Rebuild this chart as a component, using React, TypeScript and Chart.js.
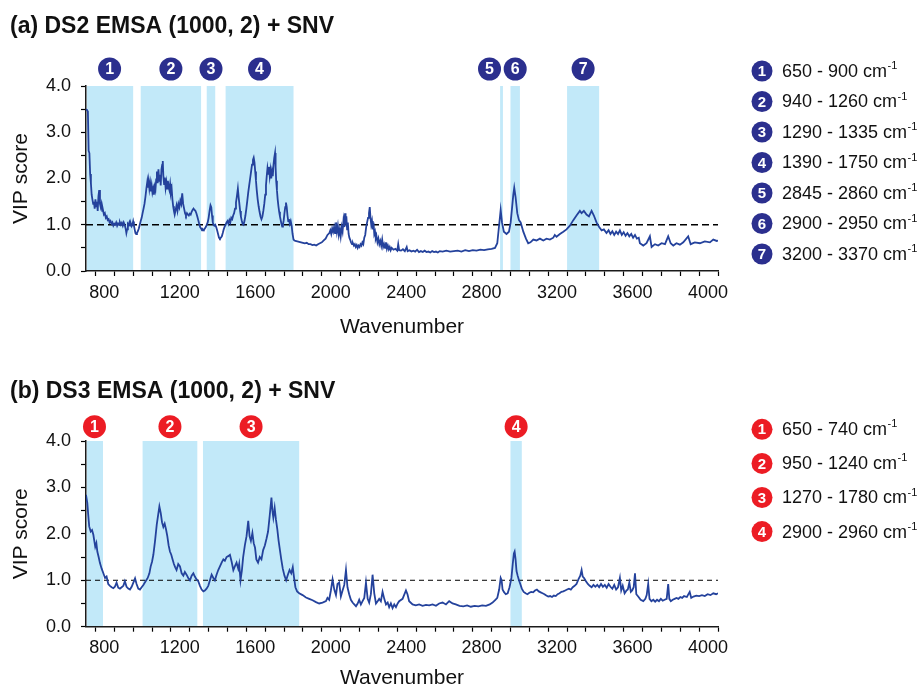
import React, { useEffect, useRef } from 'react';
import { Chart, registerables } from 'chart.js';

Chart.register(...registerables);

// ---------------- data ----------------
const titleA = '(a) DS2 EMSA (1000, 2) + SNV';
const titleB = '(b) DS3 EMSA (1000, 2) + SNV';
const xTitle = 'Wavenumber';
const yTitle = 'VIP score';

const xMajorTicks = [800, 1200, 1600, 2000, 2400, 2800, 3200, 3600, 4000];
const yMajorTicks = [0, 1, 2, 3, 4];
const threshold = 1.0;

const regionsA = [[650, 900], [940, 1260], [1290, 1335], [1390, 1750], [2845, 2860], [2900, 2950], [3200, 3370]];
const regionsB = [[650, 740], [950, 1240], [1270, 1780], [2900, 2960]];

const vipA = [
  [650, 3.5], [655, 3.48], [660, 3.45], [664, 2.6], [668, 2.55], [672, 2.1], [676, 1.9], [680, 1.65], [684, 1.55], [688, 1.45],
  [692, 1.5], [696, 1.35], [700, 1.55], [704, 1.4], [708, 1.5], [712, 1.3], [716, 1.62], [720, 1.75], [724, 1.45], [728, 1.38],
  [732, 1.45], [736, 1.3], [740, 1.32], [745, 1.22], [750, 1.25], [755, 1.15], [760, 1.18], [765, 1.1], [770, 1.12], [775, 1.05],
  [780, 1.08], [785, 1.02], [790, 1.05], [795, 0.98], [800, 1.02], [805, 1.0], [810, 1.05], [815, 0.98], [820, 1.03], [825, 1.0],
  [830, 1.05], [835, 1.0], [840, 1.04], [845, 0.98], [850, 1.05], [855, 1.0], [860, 0.92], [864, 0.82], [868, 0.9], [872, 1.02],
  [876, 1.0], [880, 1.05], [884, 0.98], [888, 1.02], [892, 0.97], [896, 1.0], [900, 1.07], [904, 0.98], [908, 0.9], [912, 0.82],
  [916, 0.8], [920, 0.82], [925, 0.86], [930, 0.92], [935, 1.0], [940, 1.08], [945, 1.15], [950, 1.25], [955, 1.35], [960, 1.45],
  [965, 1.6], [970, 1.78], [975, 1.93], [978, 1.8], [982, 1.95], [986, 1.78], [990, 1.9], [994, 1.72], [998, 1.85], [1002, 1.7],
  [1006, 1.78], [1010, 1.65], [1014, 1.82], [1018, 1.75], [1022, 1.98], [1026, 2.15], [1030, 1.9], [1034, 2.2], [1038, 1.95], [1042, 2.08],
  [1046, 1.85], [1050, 2.2], [1054, 2.3], [1057, 2.38], [1060, 2.05], [1064, 1.88], [1068, 2.02], [1072, 1.8], [1076, 1.92], [1080, 1.78],
  [1084, 1.95], [1088, 1.82], [1092, 1.75], [1096, 1.88], [1100, 1.7], [1104, 1.78], [1108, 1.55], [1112, 1.4], [1116, 1.3], [1120, 1.22],
  [1125, 1.32], [1130, 1.42], [1135, 1.3], [1140, 1.45], [1145, 1.38], [1150, 1.52], [1155, 1.45], [1160, 1.68], [1165, 1.45], [1170, 1.35],
  [1175, 1.25], [1180, 1.2], [1185, 1.25], [1190, 1.22], [1195, 1.2], [1200, 1.24], [1205, 1.22], [1210, 1.28], [1215, 1.32], [1220, 1.35],
  [1225, 1.32], [1230, 1.3], [1235, 1.25], [1240, 1.18], [1245, 1.1], [1250, 1.02], [1255, 0.95], [1260, 0.92], [1265, 0.88], [1270, 0.9],
  [1275, 0.88], [1280, 0.92], [1285, 0.95], [1290, 1.0], [1295, 1.05], [1300, 1.15], [1305, 1.3], [1310, 1.42], [1314, 1.38], [1318, 1.2],
  [1322, 1.05], [1326, 1.0], [1330, 0.98], [1335, 1.0], [1340, 0.95], [1345, 0.88], [1350, 0.8], [1355, 0.72], [1360, 0.7], [1365, 0.72],
  [1370, 0.75], [1375, 0.82], [1380, 0.9], [1385, 0.96], [1390, 1.0], [1395, 1.05], [1400, 1.08], [1405, 1.02], [1410, 1.1], [1415, 1.05],
  [1420, 1.15], [1425, 1.12], [1430, 1.2], [1435, 1.25], [1440, 1.35], [1445, 1.48], [1450, 1.62], [1455, 1.78], [1459, 1.6], [1463, 1.45],
  [1467, 1.3], [1471, 1.18], [1475, 1.1], [1480, 1.02], [1485, 1.0], [1490, 1.08], [1495, 1.2], [1500, 1.35], [1505, 1.52], [1510, 1.7],
  [1515, 1.85], [1520, 2.0], [1525, 2.15], [1530, 2.3], [1535, 2.4], [1539, 2.45], [1543, 2.35], [1547, 2.15], [1551, 1.95], [1555, 1.75],
  [1560, 1.55], [1565, 1.4], [1570, 1.28], [1575, 1.18], [1580, 1.12], [1585, 1.18], [1590, 1.3], [1595, 1.45], [1600, 1.65], [1604, 1.85],
  [1608, 2.05], [1612, 2.22], [1616, 2.1], [1620, 2.25], [1624, 2.05], [1628, 2.18], [1632, 2.0], [1636, 2.15], [1640, 2.05], [1644, 2.3],
  [1648, 2.45], [1652, 2.55], [1655, 2.25], [1658, 1.95], [1662, 1.75], [1666, 1.55], [1670, 1.4], [1674, 1.28], [1678, 1.18], [1682, 1.1],
  [1686, 1.02], [1690, 0.96], [1694, 1.0], [1698, 1.1], [1702, 1.25], [1706, 1.38], [1710, 1.48], [1714, 1.38], [1718, 1.2], [1722, 1.08],
  [1726, 1.12], [1730, 1.02], [1735, 1.08], [1740, 0.98], [1745, 0.8], [1750, 0.68], [1755, 0.66], [1760, 0.65], [1770, 0.64], [1780, 0.63],
  [1790, 0.62], [1800, 0.61], [1810, 0.6], [1820, 0.61], [1830, 0.58], [1840, 0.58], [1850, 0.56], [1860, 0.57], [1870, 0.55], [1880, 0.58],
  [1890, 0.6], [1900, 0.62], [1910, 0.66], [1920, 0.7], [1930, 0.78], [1940, 0.82], [1945, 0.88], [1950, 0.8], [1955, 0.92], [1960, 0.85],
  [1965, 0.95], [1970, 0.82], [1975, 1.05], [1980, 0.85], [1985, 0.98], [1990, 0.78], [1995, 0.9], [2000, 0.75], [2005, 0.95], [2010, 0.85],
  [2015, 1.1], [2020, 0.95], [2023, 1.25], [2026, 1.0], [2030, 1.18], [2034, 0.9], [2038, 1.05], [2042, 0.8], [2046, 0.72], [2050, 0.68],
  [2055, 0.62], [2060, 0.58], [2065, 0.6], [2070, 0.55], [2075, 0.58], [2080, 0.52], [2085, 0.56], [2090, 0.5], [2095, 0.55], [2100, 0.52],
  [2105, 0.58], [2110, 0.55], [2115, 0.62], [2120, 0.58], [2125, 0.72], [2130, 0.78], [2135, 0.95], [2140, 1.05], [2145, 1.15], [2150, 1.25],
  [2154, 1.38], [2158, 1.15], [2162, 1.0], [2166, 1.08], [2170, 0.9], [2174, 1.05], [2178, 0.8], [2182, 0.85], [2186, 0.7], [2190, 0.75],
  [2195, 0.62], [2200, 0.7], [2205, 0.58], [2210, 0.65], [2215, 0.55], [2220, 0.68], [2225, 0.52], [2230, 0.58], [2235, 0.5], [2240, 0.62],
  [2245, 0.48], [2250, 0.55], [2255, 0.47], [2260, 0.52], [2265, 0.45], [2270, 0.5], [2280, 0.46], [2290, 0.48], [2300, 0.44], [2305, 0.58],
  [2310, 0.45], [2320, 0.44], [2330, 0.47], [2340, 0.43], [2350, 0.52], [2355, 0.43], [2365, 0.45], [2375, 0.42], [2385, 0.44], [2395, 0.42],
  [2405, 0.46], [2415, 0.41], [2425, 0.43], [2435, 0.41], [2445, 0.44], [2455, 0.41], [2465, 0.42], [2475, 0.4], [2485, 0.43], [2495, 0.41],
  [2505, 0.42], [2515, 0.4], [2525, 0.43], [2540, 0.42], [2560, 0.44], [2580, 0.42], [2600, 0.43], [2620, 0.44], [2640, 0.42], [2660, 0.45],
  [2680, 0.43], [2700, 0.45], [2720, 0.44], [2740, 0.46], [2760, 0.45], [2780, 0.47], [2800, 0.48], [2818, 0.5], [2830, 0.6], [2840, 1.0],
  [2848, 1.32], [2855, 1.05], [2865, 0.85], [2879, 0.8], [2892, 0.85], [2901, 1.05], [2908, 1.35], [2915, 1.65], [2920, 1.8], [2927, 1.6],
  [2936, 1.25], [2945, 1.1], [2954, 1.05], [2968, 0.85], [2982, 0.7], [2994, 0.6], [3006, 0.62], [3021, 0.68], [3038, 0.66], [3056, 0.7],
  [3074, 0.66], [3091, 0.7], [3109, 0.68], [3127, 0.72], [3135, 0.78], [3144, 0.74], [3162, 0.8], [3180, 0.85], [3197, 0.9], [3215, 0.98],
  [3233, 1.1], [3250, 1.2], [3268, 1.3], [3277, 1.25], [3289, 1.3], [3303, 1.22], [3316, 1.18], [3330, 1.3], [3342, 1.2], [3356, 1.05],
  [3370, 0.95], [3383, 0.88], [3395, 0.9], [3409, 0.82], [3420, 0.88], [3430, 0.8], [3440, 0.86], [3450, 0.78], [3460, 0.85], [3470, 0.8],
  [3480, 0.88], [3490, 0.78], [3500, 0.84], [3510, 0.76], [3520, 0.82], [3530, 0.75], [3540, 0.8], [3550, 0.72], [3560, 0.78], [3570, 0.7],
  [3580, 0.72], [3586, 0.6], [3604, 0.55], [3621, 0.6], [3639, 0.75], [3648, 0.52], [3666, 0.58], [3683, 0.55], [3701, 0.6], [3719, 0.58],
  [3736, 0.75], [3749, 0.6], [3763, 0.55], [3780, 0.6], [3798, 0.57], [3816, 0.62], [3842, 0.75], [3855, 0.58], [3877, 0.62], [3904, 0.6],
  [3930, 0.64], [3957, 0.62], [3975, 0.68], [3993, 0.65], [4000, 0.66],
];

const vipB = [
  [650, 2.84], [657, 2.66], [662, 2.4], [667, 2.16], [675, 2.05], [682, 2.08], [689, 1.98], [694, 1.85], [699, 1.72], [705, 1.8],
  [710, 1.62], [717, 1.5], [724, 1.37], [733, 1.25], [742, 1.15], [751, 1.05], [759, 1.08], [768, 0.92], [777, 0.88], [786, 0.85],
  [795, 0.83], [803, 0.86], [812, 0.95], [821, 0.84], [830, 0.82], [839, 0.85], [848, 0.88], [856, 0.98], [865, 0.86], [874, 0.82],
  [883, 0.8], [892, 0.86], [901, 0.95], [910, 1.04], [918, 0.92], [927, 0.82], [936, 0.8], [945, 0.85], [954, 0.9], [966, 0.98],
  [977, 1.05], [986, 1.15], [993, 1.3], [1000, 1.4], [1007, 1.55], [1016, 1.85], [1025, 2.2], [1034, 2.45], [1039, 2.59], [1046, 2.45],
  [1053, 2.25], [1060, 2.15], [1067, 2.22], [1074, 2.1], [1081, 1.95], [1088, 1.75], [1095, 1.62], [1102, 1.55], [1109, 1.45], [1116, 1.35],
  [1123, 1.28], [1130, 1.22], [1139, 1.35], [1148, 1.3], [1157, 1.15], [1166, 1.1], [1174, 1.18], [1183, 1.12], [1192, 1.05], [1201, 1.0],
  [1210, 1.1], [1219, 1.15], [1227, 1.08], [1236, 1.02], [1245, 0.98], [1254, 0.88], [1263, 0.8], [1272, 0.76], [1280, 0.78], [1289, 0.82],
  [1298, 0.88], [1307, 1.0], [1316, 1.12], [1325, 1.05], [1333, 1.0], [1342, 1.12], [1351, 1.22], [1360, 1.3], [1369, 1.38], [1378, 1.45],
  [1386, 1.42], [1395, 1.5], [1404, 1.52], [1413, 1.55], [1422, 1.4], [1431, 1.22], [1439, 1.3], [1448, 1.38], [1457, 1.25], [1462, 1.35],
  [1469, 1.0], [1476, 1.2], [1483, 1.5], [1492, 1.75], [1501, 1.95], [1510, 2.28], [1517, 1.95], [1524, 1.85], [1532, 2.02], [1539, 1.8],
  [1546, 1.7], [1553, 1.45], [1562, 1.38], [1571, 1.5], [1580, 1.45], [1589, 1.65], [1598, 1.75], [1607, 1.9], [1615, 2.05], [1624, 2.4],
  [1633, 2.78], [1638, 2.5], [1643, 2.35], [1650, 2.56], [1657, 2.3], [1664, 2.1], [1671, 1.85], [1678, 1.65], [1685, 1.45], [1693, 1.25],
  [1702, 1.1], [1711, 1.0], [1720, 1.12], [1729, 1.22], [1738, 1.15], [1746, 1.28], [1753, 1.05], [1760, 0.85], [1769, 0.76], [1780, 0.72],
  [1798, 0.68], [1816, 0.63], [1833, 0.6], [1851, 0.57], [1869, 0.53], [1886, 0.5], [1904, 0.52], [1922, 0.55], [1930, 0.62], [1939, 0.58],
  [1948, 0.78], [1957, 1.02], [1966, 0.8], [1975, 0.68], [1983, 0.92], [1992, 0.95], [2001, 0.65], [2010, 0.78], [2019, 0.9], [2028, 1.22],
  [2036, 0.85], [2045, 0.7], [2054, 0.58], [2063, 0.52], [2072, 0.48], [2081, 0.44], [2090, 0.5], [2098, 0.58], [2107, 0.48], [2116, 0.55],
  [2125, 0.62], [2134, 0.95], [2143, 0.6], [2151, 0.52], [2160, 0.7], [2169, 1.12], [2178, 0.72], [2187, 0.5], [2196, 0.55], [2204, 0.6],
  [2213, 0.55], [2222, 0.75], [2231, 0.6], [2240, 0.48], [2249, 0.52], [2257, 0.42], [2266, 0.5], [2275, 0.4], [2284, 0.48], [2293, 0.42],
  [2302, 0.5], [2310, 0.55], [2328, 0.6], [2346, 0.78], [2354, 0.7], [2363, 0.55], [2381, 0.48], [2398, 0.46], [2416, 0.48], [2434, 0.45],
  [2452, 0.47], [2469, 0.46], [2487, 0.48], [2505, 0.45], [2522, 0.5], [2540, 0.52], [2558, 0.48], [2575, 0.55], [2593, 0.5], [2610, 0.48],
  [2630, 0.45], [2650, 0.44], [2670, 0.46], [2690, 0.43], [2710, 0.45], [2730, 0.44], [2750, 0.46], [2770, 0.45], [2790, 0.48], [2805, 0.52],
  [2820, 0.58], [2830, 0.62], [2840, 0.8], [2848, 1.05], [2853, 1.0], [2858, 0.8], [2865, 0.75], [2875, 0.7], [2885, 0.72], [2895, 0.85],
  [2905, 1.05], [2912, 1.35], [2918, 1.58], [2922, 1.62], [2927, 1.45], [2932, 1.2], [2938, 1.1], [2945, 1.0], [2952, 0.92], [2960, 0.82],
  [2970, 0.75], [2980, 0.72], [2990, 0.7], [3000, 0.73], [3010, 0.75], [3020, 0.74], [3030, 0.78], [3040, 0.8], [3050, 0.76], [3060, 0.74],
  [3070, 0.72], [3080, 0.7], [3090, 0.67], [3100, 0.65], [3110, 0.66], [3120, 0.64], [3130, 0.67], [3140, 0.66], [3150, 0.7], [3160, 0.72],
  [3170, 0.75], [3180, 0.76], [3190, 0.78], [3200, 0.8], [3210, 0.82], [3220, 0.8], [3230, 0.85], [3240, 0.88], [3250, 0.92], [3260, 1.02],
  [3270, 1.1], [3277, 1.22], [3283, 1.08], [3290, 1.05], [3300, 0.98], [3310, 0.92], [3320, 0.88], [3330, 0.85], [3340, 0.9], [3350, 0.86],
  [3360, 0.9], [3370, 0.85], [3380, 0.92], [3390, 0.86], [3400, 0.9], [3410, 0.84], [3420, 0.92], [3430, 0.86], [3440, 0.82], [3450, 0.9],
  [3460, 0.8], [3470, 0.85], [3480, 1.05], [3487, 0.78], [3495, 0.88], [3505, 0.72], [3515, 0.78], [3522, 0.8], [3530, 0.95], [3538, 0.75],
  [3545, 0.78], [3553, 0.85], [3560, 1.15], [3567, 0.7], [3577, 0.65], [3590, 0.58], [3604, 0.55], [3615, 0.6], [3622, 0.68], [3630, 0.92],
  [3637, 0.6], [3647, 0.55], [3657, 0.58], [3667, 0.54], [3677, 0.58], [3687, 0.55], [3697, 0.6], [3707, 0.56], [3717, 0.58], [3728, 0.6],
  [3736, 0.92], [3742, 0.6], [3750, 0.55], [3760, 0.58], [3770, 0.6], [3780, 0.62], [3790, 0.6], [3800, 0.64], [3810, 0.62], [3820, 0.66],
  [3835, 0.64], [3850, 0.75], [3858, 0.62], [3870, 0.65], [3885, 0.67], [3900, 0.66], [3915, 0.68], [3930, 0.66], [3945, 0.7], [3960, 0.68],
  [3975, 0.72], [3990, 0.7], [4000, 0.72],
];

// ---------------- styles / layout ----------------
const FONT = '"Liberation Sans", Arial, Helvetica, sans-serif';
const LINE_COLOR = '#24429c';
const SHADE = '#c2e9f9';
const NAVY = '#2b2f8e';
const RED = '#ec1c24';
const TEXT = '#111111';

type PanelCfg = {
  title: string;
  data: number[][];
  regions: number[][];
  markerColor: string;
  top: number;
  height: number;
  areaTop: number;
  areaBottom: number;
  titleY: number;
  markerGap: number;
  markerNudge: Record<number, number>;
  legendY0: number;
  legendStep: number;
  xTitlePad: number;
  dash: number[];
  dashWidth: number;
};

const AREA_LEFT = 86;
const AREA_RIGHT = 718;
const X_MIN = 650;
const X_MAX = 4000;

function makePlugin(cfg: PanelCfg) {
  return {
    id: 'panelDecor',
    beforeDraw(chart: any) {
      const { ctx, chartArea, scales } = chart;
      const xs = scales.x;
      ctx.save();
      ctx.fillStyle = SHADE;
      cfg.regions.forEach(([a, b]) => {
        const x0 = Math.max(xs.getPixelForValue(a), chartArea.left + 0.8);
        const x1 = xs.getPixelForValue(b);
        ctx.fillRect(x0, chartArea.top, x1 - x0, chartArea.bottom - chartArea.top);
      });
      ctx.restore();
    },
    afterDraw(chart: any) {
      const { ctx, chartArea, scales } = chart;
      const xs = scales.x;
      ctx.save();
      // panel title
      ctx.fillStyle = TEXT;
      ctx.font = `bold 23px ${FONT}`;
      ctx.textAlign = 'left';
      ctx.textBaseline = 'middle';
      ctx.fillText(cfg.title, 10, cfg.titleY);

      // numbered markers above regions
      const drawBadge = (cx: number, cy: number, r: number, n: string, fs: number) => {
        ctx.beginPath();
        ctx.arc(cx, cy, r, 0, Math.PI * 2);
        ctx.fillStyle = cfg.markerColor;
        ctx.fill();
        ctx.fillStyle = '#ffffff';
        ctx.font = `bold ${fs}px ${FONT}`;
        ctx.textAlign = 'center';
        ctx.textBaseline = 'middle';
        ctx.fillText(n, cx, cy + 1);
      };
      const my = chartArea.top - cfg.markerGap;
      cfg.regions.forEach(([a, b], i) => {
        const cx = xs.getPixelForValue((a + b) / 2) + (cfg.markerNudge[i] || 0);
        drawBadge(cx, my, 11.5, String(i + 1), 16);
      });

      // legend
      cfg.regions.forEach(([a, b], i) => {
        const y = cfg.legendY0 + i * cfg.legendStep;
        drawBadge(762, y, 10.5, String(i + 1), 15);
        ctx.fillStyle = TEXT;
        ctx.textAlign = 'left';
        ctx.textBaseline = 'middle';
        ctx.font = `18px ${FONT}`;
        const main = `${a} - ${b} cm`;
        ctx.fillText(main, 782, y + 1);
        const w = ctx.measureText(main).width;
        ctx.font = `11px ${FONT}`;
        ctx.fillText('-1', 782 + w + 0.5, y - 5);
      });
      ctx.restore();
    },
  };
}

function Panel({ cfg }: { cfg: PanelCfg }) {
  const ref = useRef<HTMLCanvasElement>(null);
  useEffect(() => {
    const canvas = ref.current!;
    const xTicks: number[] = [];
    for (let v = 700; v <= X_MAX; v += 100) xTicks.push(v);
    const yTicks: number[] = [];
    for (let v = 0; v <= 4.001; v += 0.5) yTicks.push(Math.round(v * 10) / 10);

    const chart = new Chart(canvas, {
      type: 'line',
      data: {
        datasets: [
          {
            label: 'VIP',
            data: cfg.data.map(([x, y]) => ({ x, y })),
            borderColor: LINE_COLOR,
            borderWidth: 1.8,
            pointRadius: 0,
            tension: 0,
            fill: false,
            order: 1,
          },
          {
            label: 'threshold',
            data: [{ x: X_MIN, y: threshold }, { x: X_MAX, y: threshold }],
            borderColor: '#000000',
            borderWidth: cfg.dashWidth,
            borderDash: cfg.dash,
            pointRadius: 0,
            fill: false,
            order: 2,
          },
        ],
      },
      options: {
        animation: false,
        responsive: false,
        devicePixelRatio: 1,
        layout: { padding: { left: 0, right: 920 - AREA_RIGHT, top: cfg.areaTop, bottom: 0 } },
        plugins: { legend: { display: false }, tooltip: { enabled: false }, title: { display: false } },
        scales: {
          x: {
            type: 'linear',
            position: 'bottom',
            min: X_MIN,
            max: X_MAX,
            afterBuildTicks: (scale: any) => {
              scale.ticks = xTicks.map((v) => ({ value: v }));
            },
            afterFit: (scale: any) => {
              scale.height = cfg.height - cfg.areaBottom;
            },
            ticks: {
              autoSkip: false,
              maxRotation: 0,
              minRotation: 0,
              labelOffset: -10,
              padding: 6,
              color: TEXT,
              font: { family: FONT, size: 18 },
              callback: (v: any) => (xMajorTicks.includes(Number(v)) ? String(v) : ''),
            },
            grid: {
              display: true,
              drawOnChartArea: false,
              drawTicks: true,
              tickLength: 5,
              tickColor: '#000000',
              tickWidth: 1.2,
              color: '#000000',
            },
            border: { display: true, color: '#1a1a1a', width: 1.5 },
            title: {
              display: true,
              text: xTitle,
              color: TEXT,
              font: { family: FONT, size: 21 },
              padding: { top: 0, bottom: cfg.xTitlePad },
            },
          },
          y: {
            type: 'linear',
            min: 0,
            max: 4,
            afterBuildTicks: (scale: any) => {
              scale.ticks = yTicks.map((v) => ({ value: v }));
            },
            afterFit: (scale: any) => {
              scale.width = AREA_LEFT;
            },
            ticks: {
              autoSkip: false,
              padding: 10,
              color: TEXT,
              font: { family: FONT, size: 18 },
              callback: (v: any) => (yMajorTicks.includes(Number(v)) ? Number(v).toFixed(1) : ''),
            },
            grid: {
              display: true,
              drawOnChartArea: false,
              drawTicks: true,
              tickLength: 5,
              tickColor: '#000000',
              tickWidth: 1.2,
              color: '#000000',
            },
            border: { display: true, color: '#1a1a1a', width: 1.5 },
            title: {
              display: true,
              text: yTitle,
              color: TEXT,
              font: { family: FONT, size: 21 },
              padding: { top: 9, bottom: 0 },
            },
          },
        },
      },
      plugins: [makePlugin(cfg)],
    } as any);
    return () => chart.destroy();
  }, [cfg]);
  return (
    <canvas
      ref={ref}
      width={920}
      height={cfg.height}
      style={{ position: 'absolute', left: 0, top: cfg.top, width: 920, height: cfg.height, display: 'block' }}
    />
  );
}

const panelA: PanelCfg = {
  title: titleA,
  data: vipA,
  regions: regionsA,
  markerColor: NAVY,
  top: 0,
  height: 350,
  areaTop: 86,
  areaBottom: 271,
  titleY: 27,
  markerGap: 17,
  markerNudge: { 4: -12 },
  legendY0: 71,
  legendStep: 30.5,
  xTitlePad: 10,
  dash: [7, 4],
  dashWidth: 1.4,
};

const panelB: PanelCfg = {
  title: titleB,
  data: vipB,
  regions: regionsB,
  markerColor: RED,
  top: 350,
  height: 350,
  areaTop: 91,
  areaBottom: 276.7,
  titleY: 42,
  markerGap: 14.3,
  markerNudge: {},
  legendY0: 79.3,
  legendStep: 34.1,
  xTitlePad: 9.4,
  dash: [5, 4],
  dashWidth: 1,
};

export default function App() {
  return (
    <div
      style={{
        position: 'fixed',
        left: 0,
        top: 0,
        width: 920,
        height: 689,
        overflow: 'hidden',
        background: '#ffffff',
      }}
    >
      <Panel cfg={panelA} />
      <Panel cfg={panelB} />
    </div>
  );
}
